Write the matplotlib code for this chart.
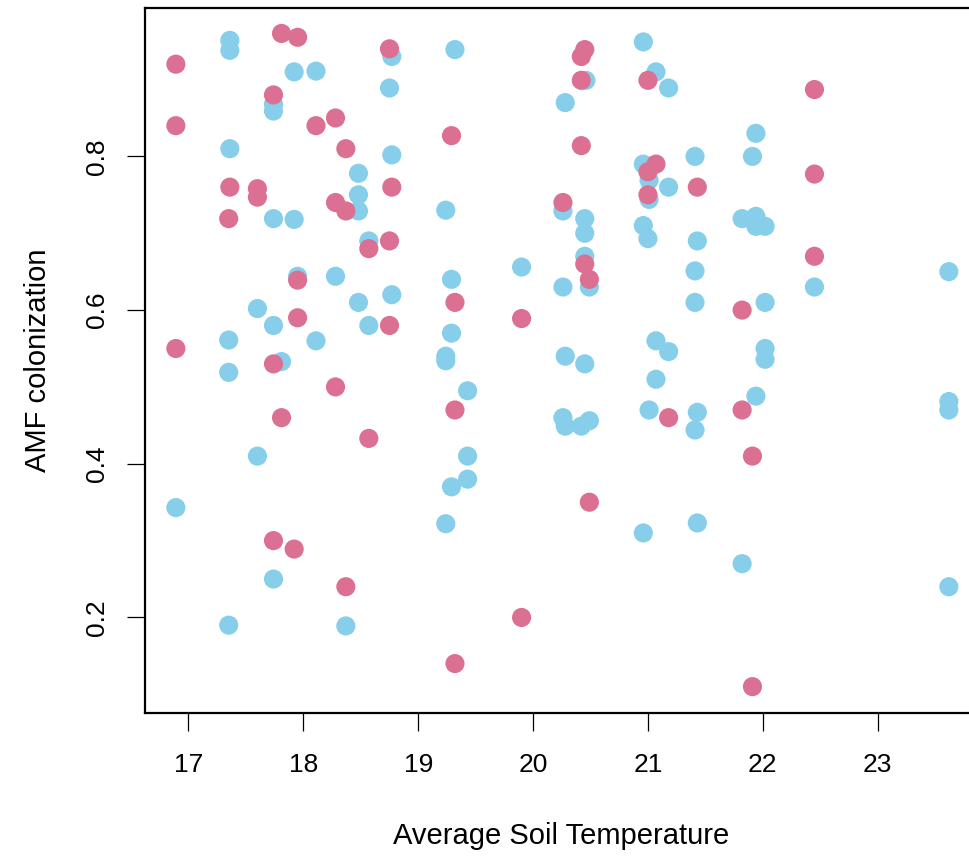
import matplotlib
matplotlib.use("Agg")
import matplotlib.pyplot as plt

# blue group (drawn first)
blue_temp = [17.36, 17.36, 17.92, 18.11, 18.77, 18.75, 17.74, 17.74, 17.36, 18.77,
             18.48, 18.48, 18.48, 17.74, 17.92, 18.57, 17.95, 18.28, 18.77, 18.48,
             17.60, 17.74, 18.57, 17.35, 18.11, 17.35, 17.81, 17.60, 16.89, 17.74,
             17.35, 18.37, 19.32, 20.46, 20.96, 21.07, 21.18, 20.28, 20.96, 21.01,
             21.01, 21.18, 19.24, 20.26, 20.45, 20.45, 20.96, 21.00, 20.45, 20.49,
             20.26, 19.29, 19.90, 19.29, 19.24, 19.24, 20.28, 21.07, 21.18, 20.45,
             21.07, 19.43, 20.26, 20.28, 20.42, 20.49, 21.01, 19.43, 19.43, 19.29,
             19.24, 20.96, 21.94, 21.41, 21.91, 21.82, 21.94, 21.94, 22.02, 21.43,
             21.41, 23.62, 22.45, 21.41, 22.02, 22.02, 22.02, 21.94, 21.43, 21.41,
             23.62, 23.62, 21.43, 21.82, 23.62]
blue_amf = [0.951, 0.938, 0.910, 0.911, 0.930, 0.889, 0.868, 0.859, 0.810, 0.802,
            0.778, 0.750, 0.729, 0.719, 0.718, 0.690, 0.644, 0.644, 0.620, 0.610,
            0.602, 0.580, 0.580, 0.561, 0.560, 0.519, 0.533, 0.410, 0.343, 0.250,
            0.190, 0.189, 0.939, 0.899, 0.949, 0.910, 0.889, 0.870, 0.790, 0.769,
            0.744, 0.760, 0.730, 0.729, 0.719, 0.700, 0.710, 0.693, 0.670, 0.630,
            0.630, 0.640, 0.656, 0.570, 0.540, 0.534, 0.540, 0.560, 0.546, 0.530,
            0.510, 0.495, 0.460, 0.449, 0.449, 0.456, 0.470, 0.410, 0.380, 0.370,
            0.322, 0.310, 0.830, 0.800, 0.800, 0.719, 0.722, 0.709, 0.709, 0.690,
            0.651, 0.650, 0.630, 0.610, 0.610, 0.550, 0.536, 0.488, 0.467, 0.444,
            0.481, 0.470, 0.323, 0.270, 0.240]

# pink group (drawn on top)
pink_temp = [16.89, 16.89, 17.81, 17.95, 18.75, 17.74, 18.11, 18.28, 18.37, 17.36,
             17.60, 17.60, 18.28, 18.37, 18.77, 17.35, 18.57, 18.75, 17.95, 17.95,
             18.75, 16.89, 17.74, 18.28, 17.81, 18.57, 17.74, 17.92, 18.37, 20.45,
             20.42, 20.42, 21.00, 19.29, 20.42, 21.07, 21.00, 21.00, 20.26, 20.45,
             20.49, 19.32, 19.90, 19.32, 21.18, 20.49, 19.90, 19.32, 22.45, 22.45,
             21.43, 22.45, 21.82, 21.82, 21.91, 21.91]
pink_amf = [0.920, 0.840, 0.960, 0.955, 0.940, 0.880, 0.840, 0.850, 0.810, 0.760,
            0.758, 0.747, 0.740, 0.729, 0.760, 0.719, 0.680, 0.690, 0.639, 0.590,
            0.580, 0.550, 0.530, 0.500, 0.460, 0.433, 0.300, 0.289, 0.240, 0.939,
            0.930, 0.899, 0.899, 0.827, 0.814, 0.790, 0.780, 0.750, 0.740, 0.660,
            0.640, 0.610, 0.589, 0.470, 0.460, 0.350, 0.200, 0.140, 0.887, 0.777,
            0.760, 0.670, 0.600, 0.470, 0.410, 0.110]

x_ticks = [17, 18, 19, 20, 21, 22, 23]
y_ticks = [0.2, 0.4, 0.6, 0.8]

plt.rcParams['font.family'] = ['Liberation Sans', 'DejaVu Sans']

fig = plt.figure(figsize=(9.69, 8.57), dpi=100)
# right edge of the box falls just outside the image, as in the original
ax = fig.add_axes([0.1496, 0.1684, 0.8628, 0.8219])

ax.scatter(blue_temp, blue_amf, s=190, color='#87CEEB', edgecolors='none', zorder=2)
ax.scatter(pink_temp, pink_amf, s=190, color='#DB7093', edgecolors='none', zorder=3)

ax.set_xlim(16.621, 23.90)
ax.set_ylim(0.0761, 0.9927)
ax.set_xticks(x_ticks)
ax.set_yticks(y_ticks)
ax.set_xticklabels([str(t) for t in x_ticks])
ax.set_yticklabels([f"{t:.1f}" for t in y_ticks])

for s in ax.spines.values():
    s.set_linewidth(1.6)
    s.set_color('black')

ax.tick_params(axis='both', direction='out', length=13, width=0.9,
               labelsize=19, colors='black')
ax.tick_params(axis='x', pad=16)
ax.tick_params(axis='y', pad=13)
plt.setp(ax.get_yticklabels(), rotation=90, va='center', ha='right')

fig.text(561.5 / 969, 1 - 836 / 857, "Average Soil Temperature", fontsize=21,
         ha='center', va='center')
fig.text(38 / 969, 1 - 360.5 / 857, "AMF colonization", fontsize=21,
         ha='center', va='center', rotation=90)

fig.savefig("out.png", dpi=100)
